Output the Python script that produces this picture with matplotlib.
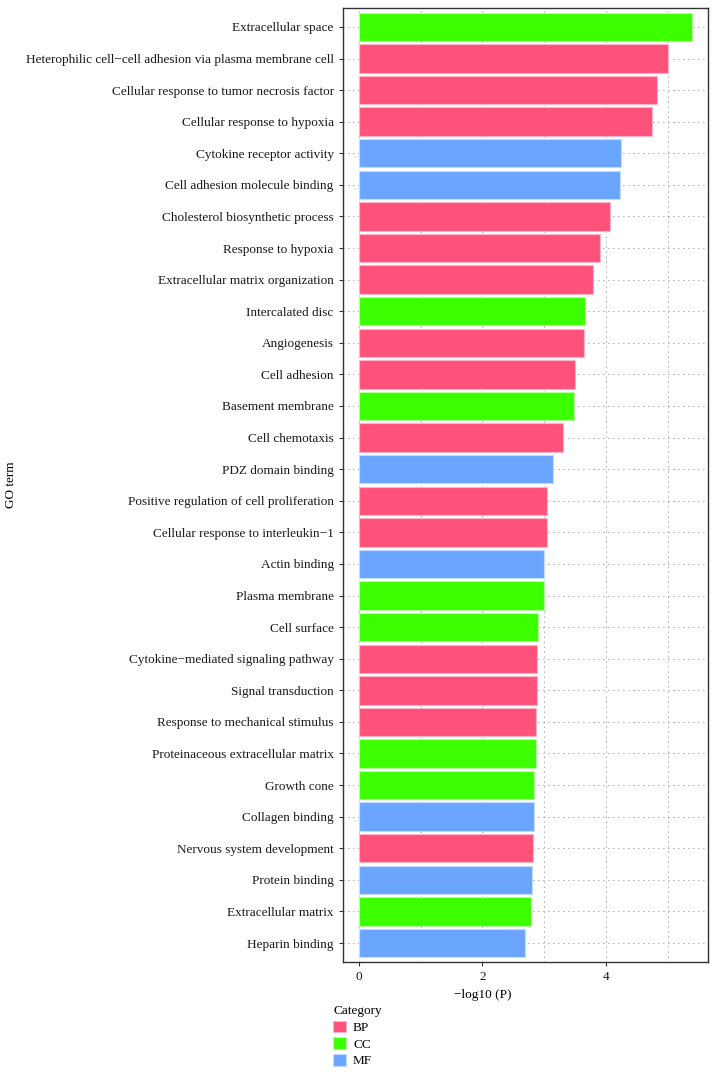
import matplotlib
matplotlib.use("Agg")
import matplotlib.pyplot as plt
from matplotlib.patches import Patch
from matplotlib.ticker import MultipleLocator

plt.rcParams['font.family'] = ['Liberation Serif', 'DejaVu Serif']

# GO terms, top to bottom
terms = [
    "Extracellular space",
    "Heterophilic cell\u2212cell adhesion via plasma membrane cell",
    "Cellular response to tumor necrosis factor",
    "Cellular response to hypoxia",
    "Cytokine receptor activity",
    "Cell adhesion molecule binding",
    "Cholesterol biosynthetic process",
    "Response to hypoxia",
    "Extracellular matrix organization",
    "Intercalated disc",
    "Angiogenesis",
    "Cell adhesion",
    "Basement membrane",
    "Cell chemotaxis",
    "PDZ domain binding",
    "Positive regulation of cell proliferation",
    "Cellular response to interleukin\u22121",
    "Actin binding",
    "Plasma membrane",
    "Cell surface",
    "Cytokine\u2212mediated signaling pathway",
    "Signal transduction",
    "Response to mechanical stimulus",
    "Proteinaceous extracellular matrix",
    "Growth cone",
    "Collagen binding",
    "Nervous system development",
    "Protein binding",
    "Extracellular matrix",
    "Heparin binding",
]
neglogp = [5.39, 5.00, 4.83, 4.75, 4.24, 4.23, 4.07, 3.91, 3.79, 3.66,
           3.64, 3.50, 3.48, 3.30, 3.14, 3.05, 3.04, 2.99, 2.99, 2.90,
           2.88, 2.88, 2.86, 2.86, 2.84, 2.83, 2.82, 2.80, 2.79, 2.69]
category = ["CC", "BP", "BP", "BP", "MF", "MF", "BP", "BP", "BP", "CC",
            "BP", "BP", "CC", "BP", "MF", "BP", "BP", "MF", "CC", "CC",
            "BP", "BP", "BP", "CC", "CC", "MF", "BP", "MF", "CC", "MF"]

colors = {"BP": "#FF527A", "CC": "#3CFF00", "MF": "#6AA6FF"}
edges = {"BP": "#FFB3C6", "CC": "#B5FF9E", "MF": "#C2DBFF"}

fig = plt.figure(figsize=(7.17, 10.77), dpi=100)
ax = fig.add_axes([0.478, 0.1068, 0.51, 0.8858])

ypos = list(range(len(terms)))
ax.barh(ypos, neglogp, height=0.9,
        color=[colors[c] for c in category],
        edgecolor=[edges[c] for c in category], linewidth=0.8, zorder=2)

ax.set_ylim(len(terms) - 0.4, -0.6)
ax.set_xlim(-0.264, 5.66)
ax.set_yticks(ypos)
ax.set_yticklabels(terms, fontsize=9.5, color="#1a1a1a")
ax.xaxis.set_major_locator(MultipleLocator(2))
ax.xaxis.set_minor_locator(MultipleLocator(1))
ax.tick_params(axis="x", labelsize=9.5, colors="#333333", length=3,
               labelcolor="#1a1a1a")
ax.tick_params(axis="x", which="minor", length=0)
ax.tick_params(axis="y", colors="#333333", length=3, labelcolor="#1a1a1a")

ax.grid(True, which="both", axis="x", color="#555555",
        linestyle=(0, (1, 5)), linewidth=0.6, zorder=0)
ax.grid(True, axis="y", color="#555555", linestyle=(0, (1, 5)),
        linewidth=0.6, zorder=0)
ax.set_axisbelow(True)
for s in ax.spines.values():
    s.set_color("#333333")
    s.set_linewidth(1.0)

ax.set_xlabel("\u2212log10 (P)", fontsize=9.5)
ax.xaxis.set_label_coords(0.382, -0.028)
ax.set_ylabel("GO term", fontsize=9.5)
ax.yaxis.set_label_coords(-0.89, 0.5)

handles = [Patch(facecolor=colors[k], edgecolor=edges[k], linewidth=0.8, label=k)
           for k in ["BP", "CC", "MF"]]
leg = fig.legend(handles=handles, title="Category", loc="upper left",
                 bbox_to_anchor=(328 / 717, 1 - 1000 / 1077), frameon=False,
                 fontsize=9.5, title_fontsize=9.5, handlelength=1.0,
                 handleheight=1.0, handletextpad=0.5, labelspacing=0.25,
                 borderaxespad=0, alignment="left")

fig.savefig("out.png", dpi=100)
